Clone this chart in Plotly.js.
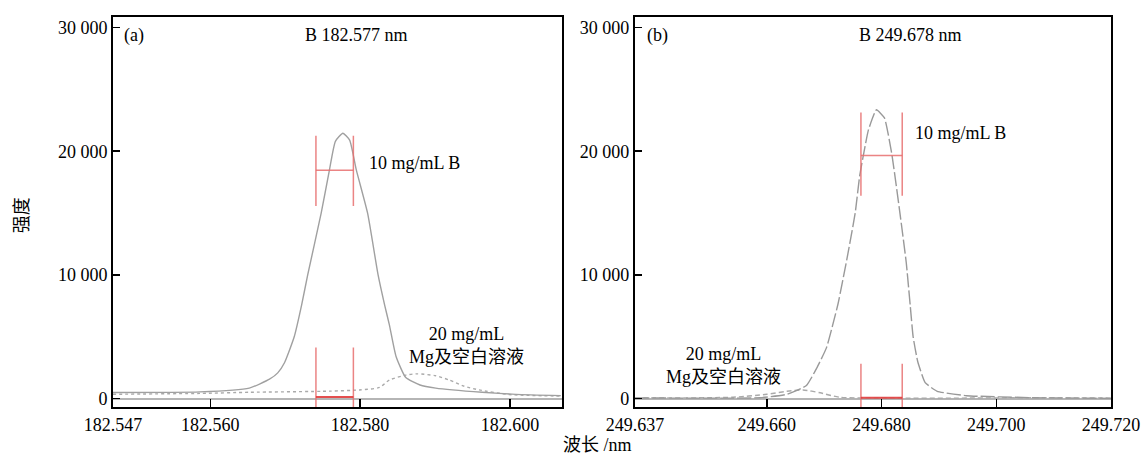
<!DOCTYPE html>
<html>
<head>
<meta charset="utf-8">
<script src="https://cdn.plot.ly/plotly-3.0.1.min.js"></script>
<style>
html,body{margin:0;padding:0;background:#fff;}
#chart{width:1147px;height:456px;}
</style>
</head>
<body>
<div id="chart"></div>
<script>
// ---------- Panel (a): B 182.577 nm ----------
const aWavelengthB = [182.5470,182.5586,182.5652,182.5679,182.5690,182.5699,182.5712,182.5722,182.5730,182.5748,182.5759,182.5767,182.5777,182.5786,182.5795,182.5810,182.5824,182.5833,182.5839,182.5848,182.5861,182.5880,182.5901,182.5963,182.6008,182.6068];
const aIntensityB  = [490,540,850,1570,2080,2900,5000,7600,10000,14990,18470,20800,21450,20900,18470,14990,10000,7500,5980,3400,1700,1100,850,510,340,240];

const aWavelengthMg = [182.5470,182.5586,182.5652,182.5759,182.5799,182.5826,182.5839,182.5861,182.5876,182.5901,182.5919,182.5939,182.5959,182.5999,182.6068];
const aIntensityMg  = [350,420,510,600,700,900,1500,1900,2000,1850,1500,1000,700,330,200];

const aMarkX = [182.5741, 182.5791];
const aMarkTopY = [15580, 21250];
const aMarkTopMid = 18470;
const aMarkBottomY = [-680, 4130];
const aMarkBottomMid = 130;

// ---------- Panel (b): B 249.678 nm ----------
const bWavelengthB = [249.6370,249.6588,249.6635,249.6669,249.6687,249.6704,249.6724,249.6740,249.6754,249.6762,249.6777,249.6791,249.6805,249.6818,249.6832,249.6843,249.6850,249.6855,249.6863,249.6876,249.6897,249.6948,249.7064,249.7200];
const bIntensityB  = [50,70,350,1060,2470,4120,7650,11390,15000,18060,21700,23350,22690,19730,15000,11000,7500,5000,3000,1290,590,235,70,20];

const bWavelengthMg = [249.6370,249.6541,249.6600,249.6635,249.6663,249.6693,249.6727,249.7064,249.7200];
const bIntensityMg  = [40,110,350,590,700,470,110,70,40];

const bMarkX = [249.6764, 249.6836];
const bMarkTopY = [16390, 23120];
const bMarkTopMid = 19660;
const bMarkBottomY = [-680, 2820];
const bMarkBottomMid = 70;

// ---------- Axes labels ----------
const aTickVals = [182.547, 182.56, 182.58, 182.6];
const aTickText = ['182.547','182.560','182.580','182.600'];
const bTickVals = [249.637, 249.66, 249.68, 249.70, 249.72];
const bTickText = ['249.637','249.660','249.680','249.700','249.720'];
const yTickVals = [0, 10000, 20000, 30000];
const yTickText = ['0','10 000','20 000','30 000'];

const titleA = 'B 182.577 nm';
const titleB = 'B 249.678 nm';
const labelB = '10 mg/mL B';
const labelMg = '20 mg/mL<br>Mg及空白溶液';
const xTitle = '波长 /nm';
const yTitle = '强度';

const FONT = 'Liberation Serif, "Noto Sans CJK SC", serif';
const markColor = 'rgba(232,110,110,0.85)';
const baseMarkColor = 'rgba(225,60,60,0.9)';

function vlines(xs, ys){ return {x:[xs[0],xs[0],null,xs[1],xs[1]], y:[ys[0],ys[1],null,ys[0],ys[1]]}; }

function markTraces(xs, topY, topMid, botY, botMid, xa, ya){
  const t1 = vlines(xs, topY), t2 = vlines(xs, botY);
  return [
    {x:t1.x, y:t1.y, xaxis:xa, yaxis:ya, mode:'lines', line:{color:markColor,width:1.5}, hoverinfo:'skip', showlegend:false},
    {x:xs, y:[topMid,topMid], xaxis:xa, yaxis:ya, mode:'lines', line:{color:markColor,width:1.5}, hoverinfo:'skip', showlegend:false},
    {x:t2.x, y:t2.y, xaxis:xa, yaxis:ya, mode:'lines', line:{color:markColor,width:1.5}, hoverinfo:'skip', showlegend:false},
    {x:xs, y:[botMid,botMid], xaxis:xa, yaxis:ya, mode:'lines', line:{color:baseMarkColor,width:2}, hoverinfo:'skip', showlegend:false}
  ];
}

const traces = [
  {x:aWavelengthMg, y:aIntensityMg, xaxis:'x', yaxis:'y', mode:'lines', line:{color:'#aaaaaa', width:1.4, dash:'3px,3px', shape:'spline', smoothing:0.6}, showlegend:false},
  {x:aWavelengthB, y:aIntensityB, xaxis:'x', yaxis:'y', mode:'lines', line:{color:'#a0a0a0', width:1.4, shape:'spline', smoothing:0.5}, showlegend:false},
  {x:bWavelengthMg, y:bIntensityMg, xaxis:'x2', yaxis:'y2', mode:'lines', line:{color:'#aaaaaa', width:1.4, dash:'5px,3px', shape:'spline', smoothing:0.6}, showlegend:false},
  {x:bWavelengthB, y:bIntensityB, xaxis:'x2', yaxis:'y2', mode:'lines', line:{color:'#999999', width:1.4, dash:'14px,3px', shape:'spline', smoothing:0.4}, showlegend:false}
].concat(
  markTraces(aMarkX, aMarkTopY, aMarkTopMid, aMarkBottomY, aMarkBottomMid, 'x', 'y'),
  markTraces(bMarkX, bMarkTopY, bMarkTopMid, bMarkBottomY, bMarkBottomMid, 'x2', 'y2')
);

const axisCommon = {
  showline:true, linecolor:'#000', linewidth:2, mirror:true,
  ticks:'inside', ticklen:8, tickwidth:1.5, tickcolor:'#000',
  showgrid:false, zeroline:false,
  tickfont:{family:FONT, size:18, color:'#000'},
  fixedrange:true
};
const yCommon = Object.assign({}, axisCommon, {
  range:[-680, 30850], tickmode:'array', tickvals:yTickVals, ticktext:yTickText,
  ticklen:7, zeroline:true, zerolinecolor:'#b5b5b5', zerolinewidth:2
});

const layout = {
  width:1147, height:456,
  margin:{l:113, r:36, t:17, b:49, pad:0},
  paper_bgcolor:'#fff', plot_bgcolor:'#fff',
  font:{family:FONT, size:18, color:'#000'},
  showlegend:false,
  xaxis:Object.assign({}, axisCommon, {domain:[0,0.4502], range:[182.547,182.607], tickmode:'array', tickvals:aTickVals, ticktext:aTickText, anchor:'y'}),
  yaxis:Object.assign({}, yCommon, {anchor:'x'}),
  xaxis2:Object.assign({}, axisCommon, {domain:[0.523,1], range:[249.637,249.720], tickmode:'array', tickvals:bTickVals, ticktext:bTickText, anchor:'y2'}),
  yaxis2:Object.assign({}, yCommon, {anchor:'x2'}),
  annotations:[
    {text:'(a)', xref:'x domain', yref:'y domain', x:0.02, y:0.953, xanchor:'left', yanchor:'middle', showarrow:false},
    {text:titleA, xref:'x domain', yref:'y domain', x:0.543, y:0.953, xanchor:'center', yanchor:'middle', showarrow:false},
    {text:labelB, xref:'x domain', yref:'y domain', x:0.566, y:0.625, xanchor:'left', yanchor:'middle', showarrow:false},
    {text:labelMg, xref:'x domain', yref:'y domain', x:0.786, y:0.158, xanchor:'center', yanchor:'middle', showarrow:false},
    {text:'(b)', xref:'x2 domain', yref:'y2 domain', x:0.021, y:0.953, xanchor:'left', yanchor:'middle', showarrow:false},
    {text:titleB, xref:'x2 domain', yref:'y2 domain', x:0.578, y:0.953, xanchor:'center', yanchor:'middle', showarrow:false},
    {text:labelB, xref:'x2 domain', yref:'y2 domain', x:0.584, y:0.702, xanchor:'left', yanchor:'middle', showarrow:false},
    {text:labelMg, xref:'x2 domain', yref:'y2 domain', x:0.187, y:0.107, xanchor:'center', yanchor:'middle', showarrow:false},
    {text:xTitle, xref:'paper', yref:'paper', x:0.485, y:-0.098, xanchor:'center', yanchor:'middle', showarrow:false},
    {text:yTitle, xref:'paper', yref:'paper', x:-0.0912, y:0.4915, xanchor:'center', yanchor:'middle', textangle:-90, showarrow:false}
  ]
};

Plotly.newPlot('chart', traces, layout, {staticPlot:true, displayModeBar:false});
</script>
</body>
</html>
